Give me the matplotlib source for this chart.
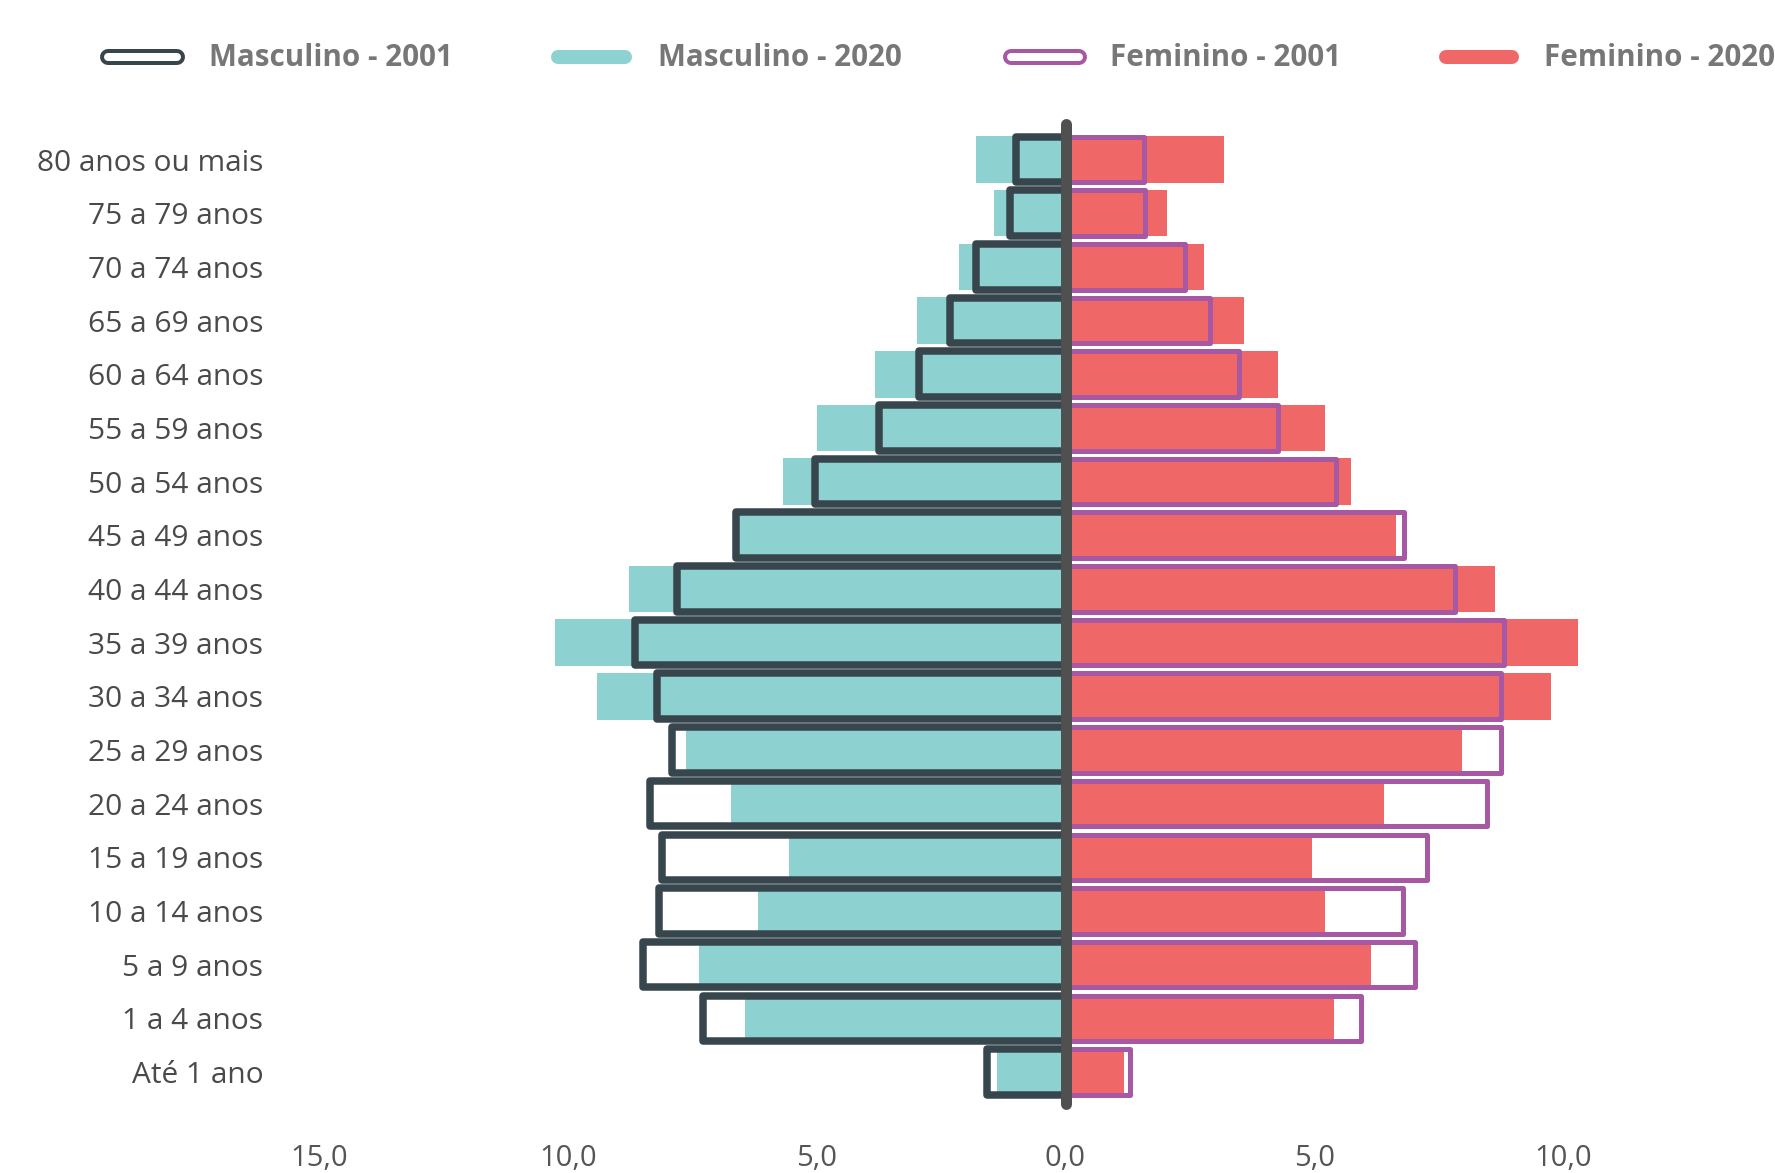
import matplotlib
matplotlib.use('Agg')
import matplotlib.pyplot as plt
from matplotlib.lines import Line2D
import numpy as np

categories = ["80 anos ou mais", "75 a 79 anos", "70 a 74 anos", "65 a 69 anos",
              "60 a 64 anos", "55 a 59 anos", "50 a 54 anos", "45 a 49 anos",
              "40 a 44 anos", "35 a 39 anos", "30 a 34 anos", "25 a 29 anos",
              "20 a 24 anos", "15 a 19 anos", "10 a 14 anos", "5 a 9 anos",
              "1 a 4 anos", "Até 1 ano"]
masc_2001 = [1.00, 1.12, 1.80, 2.33, 2.95, 3.75, 5.04, 6.62, 7.81, 8.65, 8.21, 7.91,
             8.34, 8.10, 8.16, 8.48, 7.29, 1.57]
masc_2020 = [1.79, 1.44, 2.15, 2.99, 3.83, 4.99, 5.68, 6.58, 8.78, 10.26, 9.41, 7.63,
             6.72, 5.55, 6.17, 7.37, 6.45, 1.38]
fem_2001 = [1.57, 1.59, 2.41, 2.91, 3.48, 4.26, 5.44, 6.80, 7.82, 8.81, 8.75, 8.75,
            8.47, 7.26, 6.79, 7.02, 5.94, 1.30]
fem_2020 = [3.18, 2.03, 2.79, 3.58, 4.27, 5.21, 5.73, 6.64, 8.63, 10.29, 9.75, 7.96,
            6.39, 4.96, 5.21, 6.14, 5.39, 1.17]
tick_values = [-15, -10, -5, 0, 5, 10]
tick_labels = ["15,0", "10,0", "5,0", "0,0", "5,0", "10,0"]
legend_labels = ["Masculino - 2001", "Masculino - 2020", "Feminino - 2001", "Feminino - 2020"]

TEAL = "#8DD1D1"
RED = "#F06767"
DARK = "#37464D"
PURPLE = "#A658A2"
CENTER = "#505050"

W, H = 1775, 1173
fig = plt.figure(figsize=(W / 100, H / 100), dpi=100)

left_px, right_px = 319, 1812
top_px, bot_px = 124, 1104
ax = fig.add_axes([left_px / W, 1 - bot_px / H, (right_px - left_px) / W, (bot_px - top_px) / H])

y = np.arange(len(categories))
ax.barh(y, -np.array(masc_2020), height=0.866, color=TEAL, zorder=1)
ax.barh(y, np.array(fem_2020), height=0.866, color=RED, zorder=1)
b1 = ax.barh(y, -np.array(masc_2001), height=0.85, fill=False, edgecolor=DARK,
             linewidth=5.4, zorder=2)
b2 = ax.barh(y, np.array(fem_2001), height=0.85, fill=False, edgecolor=PURPLE,
             linewidth=3.6, zorder=2)
for p in list(b1) + list(b2):
    p.set_joinstyle('round')

ax.axvline(0, color=CENTER, linewidth=7.9, solid_capstyle='round', zorder=3, clip_on=False)

ax.set_xlim(-15, 15)
ax.set_ylim(17.596, -0.663)
ax.set_yticks(y)
ax.set_yticklabels(categories, fontsize=21.5, color="#4a4a4a", family=["Open Sans", "DejaVu Sans"])
ax.set_xticks(tick_values)
ax.set_xticklabels(tick_labels, fontsize=21, color="#555555", family=["Open Sans", "DejaVu Sans"])
ax.tick_params(axis='y', length=0, pad=40)
ax.tick_params(axis='x', length=0, pad=29)
for s in ax.spines.values():
    s.set_visible(False)


def fx(px):
    return px / W


def fy(py):
    return 1 - py / H


leg_y = 57
handles = [(100, 185, 'outline', DARK), (551, 632, 'fill', TEAL),
           (1003, 1087, 'outline', PURPLE), (1439, 1519, 'fill', RED)]
text_x = [209, 658, 1110, 1544]

# fit legend font size to the reference text width (~244 px for "Masculino - 2001")
renderer = fig.canvas.get_renderer()
probe = fig.text(0, 0, legend_labels[0], fontsize=20, fontweight='bold',
                 family=["Open Sans", "DejaVu Sans"])
wpx = probe.get_window_extent(renderer=renderer).width
probe.remove()
leg_fs = 20 * 244.0 / wpx

for (x0, x1, kind, col), tx, lab in zip(handles, text_x, legend_labels):
    if kind == 'outline':
        r = 8
        fig.add_artist(Line2D([fx(x0 + r), fx(x1 - r)], [fy(leg_y), fy(leg_y)],
                              transform=fig.transFigure, color=col, linewidth=16 * 0.72,
                              solid_capstyle='round'))
        fig.add_artist(Line2D([fx(x0 + r), fx(x1 - r)], [fy(leg_y), fy(leg_y)],
                              transform=fig.transFigure, color='white', linewidth=8 * 0.72,
                              solid_capstyle='round'))
    else:
        r = 7
        fig.add_artist(Line2D([fx(x0 + r), fx(x1 - r)], [fy(leg_y), fy(leg_y)],
                              transform=fig.transFigure, color=col, linewidth=14 * 0.72,
                              solid_capstyle='round'))
    fig.text(fx(tx), fy(leg_y + 1), lab, fontsize=leg_fs, fontweight='bold', color="#777777",
             ha='left', va='center', family=["Open Sans", "DejaVu Sans"])

fig.savefig("out.png", dpi=100)
